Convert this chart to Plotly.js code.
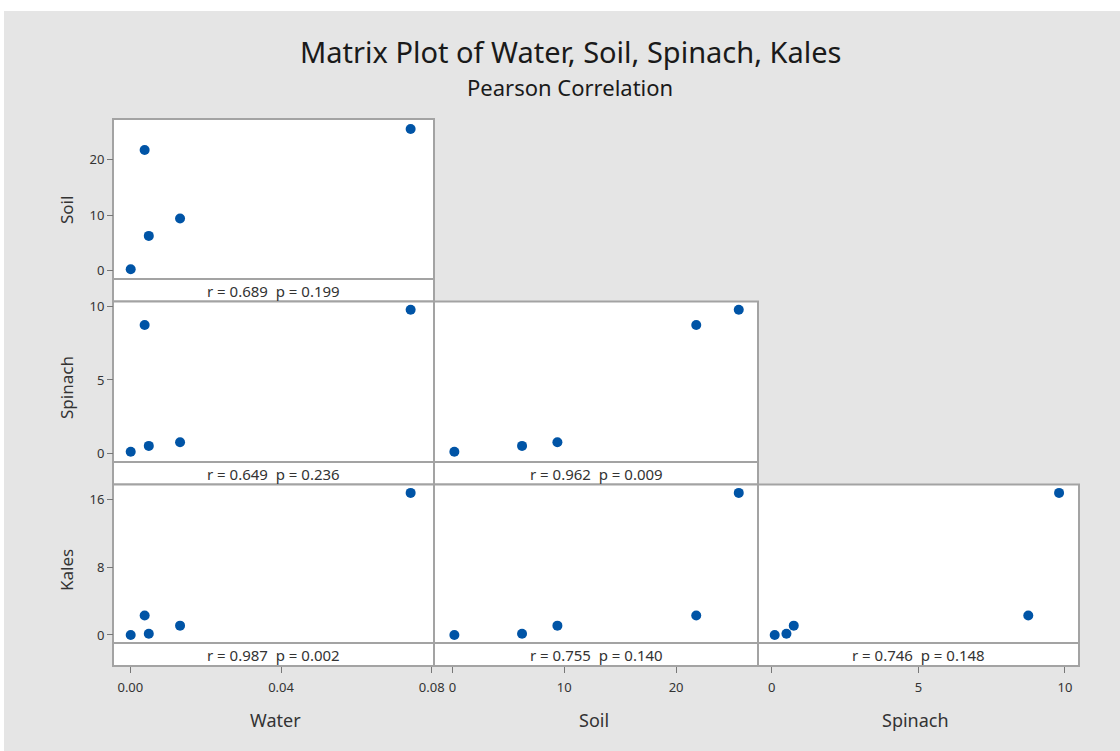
<!DOCTYPE html>
<html>
<head>
<meta charset="utf-8">
<script src="https://cdn.plot.ly/plotly-3.0.1.min.js"></script>
<style>html,body{margin:0;padding:0;background:#fff;}#chart{width:1120px;height:751px;}</style>
</head>
<body>
<div id="chart"></div>
<script>
// ---- data ----
const variables = ['Water', 'Soil', 'Spinach', 'Kales'];
const water   = [0.0001, 0.0038, 0.0049, 0.0132, 0.0744];
const soil    = [0.18, 21.8, 6.23, 9.39, 25.6];
const spinach = [0.10, 8.75, 0.50, 0.75, 9.8];
const kales   = [0.0, 2.29, 0.15, 1.10, 16.79];
// correlations in lower-triangle order: (Soil,Water),(Spinach,Water),(Spinach,Soil),(Kales,Water),(Kales,Soil),(Kales,Spinach)
const rValues = ['0.689', '0.649', '0.962', '0.987', '0.755', '0.746'];
const pValues = ['0.199', '0.236', '0.009', '0.002', '0.140', '0.148'];
const tickVals = {
  Water: [0, 0.04, 0.08], Soil: [0, 10, 20], Spinach: [0, 5, 10], Kales: [0, 8, 16]
};
const tickText = {
  Water: ['0.00', '0.04', '0.08'], Soil: ['0', '10', '20'], Spinach: ['0', '5', '10'], Kales: ['0', '8', '16']
};

// ---- layout helpers ----
const W = 1120, H = 751;
const px = x => x / W;
const py = y => 1 - y / H;
const series = {Water: water, Soil: soil, Spinach: spinach, Kales: kales};
const xRanges = {Water: [-0.0046, 0.0806], Soil: [-1.64, 27.32], Spinach: [-0.47, 10.48]};
const yRanges = {Soil: [-1.58, 27.4], Spinach: [-0.6, 10.36], Kales: [-0.95, 17.78]};
const cols = [[113, 434], [434, 758], [758, 1079]];
const rows = [[119, 279, 301.5], [301.5, 462, 484.5], [484.5, 643, 666]];
const FONT = 'Noto Sans, Open Sans, sans-serif';
const BORDER = '#a3a3a3';

const traces = [];
const layout = {
  width: W, height: H,
  margin: {l: 0, r: 0, t: 0, b: 0},
  paper_bgcolor: '#ffffff',
  plot_bgcolor: 'rgba(0,0,0,0)',
  showlegend: false,
  font: {family: FONT, color: '#333'},
  shapes: [{
    type: 'rect', xref: 'paper', yref: 'paper', layer: 'below',
    x0: px(4), x1: 1, y0: 0, y1: py(11), fillcolor: '#e5e5e5', line: {width: 0}
  }],
  annotations: [
    {text: 'Matrix Plot of Water, Soil, Spinach, Kales', xref: 'paper', yref: 'paper',
     x: px(570), y: py(51), showarrow: false, xanchor: 'center', yanchor: 'middle',
     font: {family: FONT, size: 29, color: '#1a1a1a'}},
    {text: 'Pearson Correlation', xref: 'paper', yref: 'paper',
     x: px(570), y: py(87), showarrow: false, xanchor: 'center', yanchor: 'middle',
     font: {family: FONT, size: 22, color: '#1a1a1a'}}
  ]
};

let n = 0;
for (let r = 0; r < 3; r++) {
  const yVar = variables[r + 1];
  for (let c = 0; c <= r; c++) {
    const xVar = variables[c];
    const idx = n;
    n++;
    const xa = 'xaxis' + (n === 1 ? '' : n);
    const ya = 'yaxis' + (n === 1 ? '' : n);
    const xid = 'x' + (n === 1 ? '' : n);
    const yid = 'y' + (n === 1 ? '' : n);
    const isBottom = r === 2;
    const isLeft = c === 0;

    traces.push({
      x: series[xVar], y: series[yVar], xaxis: xid, yaxis: yid,
      type: 'scatter', mode: 'markers',
      marker: {color: '#0054a6', size: 10},
      hoverinfo: 'x+y'
    });

    layout[xa] = {
      domain: [px(cols[c][0]), px(cols[c][1])],
      range: xRanges[xVar],
      anchor: isBottom ? 'free' : yid,
      position: py(666),
      showgrid: false, zeroline: false, showline: false,
      ticks: isBottom ? 'outside' : '', ticklen: 6, tickwidth: 1, tickcolor: '#777',
      ticklabelstandoff: 3,
      showticklabels: isBottom,
      tickmode: 'array', tickvals: tickVals[xVar], ticktext: tickText[xVar],
      tickfont: {family: FONT, size: 13, color: '#333'}
    };
    layout[ya] = {
      domain: [py(rows[r][1]), py(rows[r][0])],
      range: yRanges[yVar],
      anchor: isLeft ? 'free' : xid,
      position: px(113),
      showgrid: false, zeroline: false, showline: false,
      ticks: isLeft ? 'outside' : '', ticklen: 6, tickwidth: 1, tickcolor: '#777',
      showticklabels: isLeft,
      tickmode: 'array', tickvals: tickVals[yVar], ticktext: tickText[yVar],
      tickfont: {family: FONT, size: 13, color: '#333'}
    };

    // panel frame (plot + strip) and strip separator
    layout.shapes.push({
      type: 'rect', xref: 'paper', yref: 'paper', layer: 'below',
      x0: px(cols[c][0]), x1: px(cols[c][1]), y0: py(rows[r][2]), y1: py(rows[r][0]),
      fillcolor: '#ffffff', line: {color: BORDER, width: 2}
    });
    layout.shapes.push({
      type: 'line', xref: 'paper', yref: 'paper', layer: 'below',
      x0: px(cols[c][0]), x1: px(cols[c][1]), y0: py(rows[r][1]), y1: py(rows[r][1]),
      line: {color: BORDER, width: 2}
    });
    layout.annotations.push({
      text: 'r = ' + rValues[idx] + '  p = ' + pValues[idx],
      xref: 'paper', yref: 'paper',
      x: px((cols[c][0] + cols[c][1]) / 2), y: py((rows[r][1] + rows[r][2]) / 2 + 0.5),
      showarrow: false, xanchor: 'center', yanchor: 'middle',
      font: {family: FONT, size: 15, color: '#333'}
    });
  }
}

// variable labels
const xLabelPos = [275, 594, 915];
for (let c = 0; c < 3; c++) {
  layout.annotations.push({
    text: variables[c], xref: 'paper', yref: 'paper',
    x: px(xLabelPos[c]), y: py(720), showarrow: false, xanchor: 'center', yanchor: 'middle',
    font: {family: FONT, size: 18, color: '#333'}
  });
}
const yLabelPos = [210, 388, 570];
for (let r = 0; r < 3; r++) {
  layout.annotations.push({
    text: variables[r + 1], xref: 'paper', yref: 'paper', textangle: -90,
    x: px(66), y: py(yLabelPos[r]), showarrow: false, xanchor: 'center', yanchor: 'middle',
    font: {family: FONT, size: 17, color: '#333'}
  });
}

Plotly.newPlot('chart', traces, layout, {displayModeBar: false, staticPlot: true});
</script>
</body>
</html>
